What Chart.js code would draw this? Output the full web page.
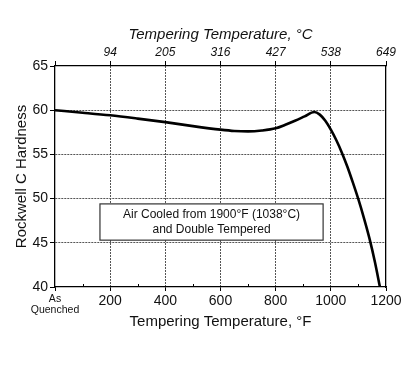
<!DOCTYPE html>
<html>
<head>
<meta charset="utf-8">
<script src="https://cdn.jsdelivr.net/npm/chart.js@4/dist/chart.umd.min.js"></script>
<style>
  html, body { margin: 0; padding: 0; background: #fff; }
  #wrap { width: 419px; height: 370px; position: relative; }
</style>
</head>
<body>
<div id="wrap"><canvas id="c" width="419" height="370"></canvas></div>
<script>
// ---- data ----
const tempF    = [0, 100, 200, 300, 400, 500, 600, 650, 700, 750, 800, 835, 870, 905, 940, 960, 980, 1000, 1020, 1040, 1060, 1080, 1100, 1120, 1140, 1160, 1178];
const hardness = [60, 59.72, 59.42, 59.05, 58.65, 58.2, 57.8, 57.65, 57.6, 57.7, 57.95, 58.35, 58.8, 59.3, 59.8, 59.5, 58.8, 57.8, 56.6, 55.2, 53.6, 51.8, 49.9, 47.8, 45.5, 42.8, 40.0];
const bottomTickValues = [0, 200, 400, 600, 800, 1000, 1200];
const bottomTickLabels = [["As", "Quenched"], "200", "400", "600", "800", "1000", "1200"];
const topTickValues = [200, 400, 600, 800, 1000, 1200];
const topTickLabels = ["94", "205", "316", "427", "538", "649"];
const yTicks = [40, 45, 50, 55, 60, 65];
const noteLines = ["Air Cooled from 1900°F (1038°C)", "and Double Tempered"];

const FONT = "'Liberation Sans', Arial, Helvetica, sans-serif";
const points = tempF.map((x, i) => ({ x: x, y: hardness[i] }));

const GRID_COLOR = '#555';
const DASH = [2, 1];

const extrasPlugin = {
  id: 'extras',
  beforeDatasetsDraw(chart) {
    const ctx = chart.ctx;
    const xs = chart.scales.x, ys = chart.scales.y;
    // note box
    const x1 = xs.getPixelForValue(163), x2 = xs.getPixelForValue(972);
    const y1 = ys.getPixelForValue(49.4), y2 = ys.getPixelForValue(45.3);
    ctx.save();
    ctx.fillStyle = '#fff';
    ctx.fillRect(x1, y1, x2 - x1, y2 - y1);
    ctx.strokeStyle = '#333';
    ctx.lineWidth = 1.2;
    ctx.strokeRect(x1, y1, x2 - x1, y2 - y1);
    ctx.fillStyle = '#111';
    ctx.font = "12px " + FONT;
    ctx.textAlign = 'center';
    ctx.textBaseline = 'middle';
    const cx = (x1 + x2) / 2;
    const cy = (y1 + y2) / 2;
    ctx.fillText(noteLines[0], cx, cy - 7.5);
    ctx.fillText(noteLines[1], cx, cy + 7.5);
    ctx.restore();
  },
  afterDraw(chart) {
    // minor ticks on bottom axis between labelled ticks
    const ctx = chart.ctx;
    const xs = chart.scales.x;
    const bottom = chart.chartArea.bottom;
    ctx.save();
    ctx.strokeStyle = '#000';
    ctx.lineWidth = 1;
    for (let i = 0; i < bottomTickValues.length - 1; i++) {
      const v = (bottomTickValues[i] + bottomTickValues[i + 1]) / 2;
      const px = Math.round(xs.getPixelForValue(v)) + 0.5;
      ctx.beginPath();
      ctx.moveTo(px, bottom);
      ctx.lineTo(px, bottom - 3);
      ctx.stroke();
    }
    ctx.restore();
  }
};

new Chart(document.getElementById('c'), {
  type: 'line',
  data: {
    datasets: [{
      data: points,
      borderColor: '#000',
      borderWidth: 2.6,
      pointRadius: 0,
      fill: false,
      cubicInterpolationMode: 'monotone',
      xAxisID: 'x',
      yAxisID: 'y'
    }]
  },
  options: {
    responsive: false,
    animation: false,
    devicePixelRatio: 1,
    layout: { padding: 0 },
    plugins: { legend: { display: false }, tooltip: { enabled: false } },
    scales: {
      x: {
        type: 'linear', position: 'bottom', min: 0, max: 1200,
        afterBuildTicks: (s) => { s.ticks = bottomTickValues.map(v => ({ value: v })); },
        afterFit: (s) => { s.height = 83; },
        ticks: {
          color: '#111',
          padding: 2,
          maxRotation: 0, autoSkip: false,
          font: (c) => (c.tick && c.tick.value === 0)
            ? { family: FONT, size: 10.5, lineHeight: 1.1 }
            : { family: FONT, size: 14, lineHeight: 1.2 },
          callback: (v) => { const i = bottomTickValues.indexOf(v); return i >= 0 ? bottomTickLabels[i] : ''; }
        },
        grid: {
          color: (c) => (c.tick && (c.tick.value === 0 || c.tick.value === 1200)) ? 'rgba(0,0,0,0)' : GRID_COLOR,
          lineWidth: 1,
          tickLength: 4, tickColor: '#000', tickWidth: 1, tickBorderDash: []
        },
        border: { display: true, color: '#000', width: 1.3, dash: DASH },
        title: {
          display: true, text: 'Tempering Temperature, °F', color: '#111',
          font: { family: FONT, size: 15 }, padding: { top: 0, bottom: 39 }
        }
      },
      xTop: {
        type: 'linear', position: 'top', min: 0, max: 1200,
        afterBuildTicks: (s) => { s.ticks = [0].concat(topTickValues).map(v => ({ value: v })); },
        afterFit: (s) => { s.height = 66; },
        ticks: {
          color: '#111', padding: 1, maxRotation: 0, autoSkip: false,
          font: { family: FONT, size: 12, style: 'italic' },
          callback: (v) => { const i = topTickValues.indexOf(v); return i >= 0 ? topTickLabels[i] : ''; }
        },
        grid: { drawOnChartArea: false, tickLength: 5, tickColor: '#000', tickWidth: 1 },
        border: { display: true, color: '#000', width: 1.3 },
        title: {
          display: true, text: 'Tempering Temperature, °C', color: '#111',
          font: { family: FONT, size: 15, style: 'italic' }, padding: { top: 26, bottom: 0 }
        }
      },
      y: {
        type: 'linear', position: 'left', min: 40, max: 65,
        afterBuildTicks: (s) => { s.ticks = yTicks.map(v => ({ value: v })); },
        afterFit: (s) => { s.width = 55; },
        ticks: { color: '#111', padding: 2, font: { family: FONT, size: 14 } },
        grid: {
          color: (c) => (c.tick && (c.tick.value === 40 || c.tick.value === 65)) ? 'rgba(0,0,0,0)' : GRID_COLOR,
          lineWidth: 1,
          tickLength: 5, tickColor: '#000', tickWidth: 1, tickBorderDash: []
        },
        border: { display: true, color: '#000', width: 1.3, dash: DASH },
        title: {
          display: true, text: 'Rockwell C Hardness', color: '#111',
          font: { family: FONT, size: 15 }, padding: { top: 13, bottom: 0 }
        }
      },
      yRight: {
        type: 'linear', position: 'right', min: 40, max: 65,
        afterFit: (s) => { s.width = 33; },
        ticks: { display: false },
        grid: { drawOnChartArea: false, drawTicks: false },
        border: { display: true, color: '#000', width: 1.3 }
      }
    }
  },
  plugins: [extrasPlugin]
});
</script>
</body>
</html>
